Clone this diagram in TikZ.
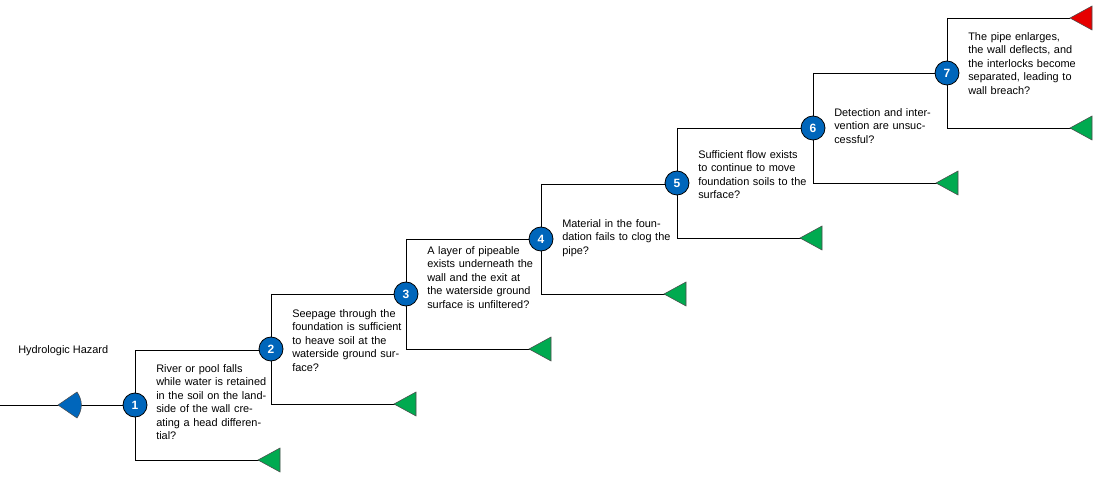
\documentclass[tikz,border=0pt]{standalone}
\usepackage{fontspec}
\setmainfont{Liberation Sans}
\definecolor{bl}{RGB}{0,102,187}
\definecolor{gr}{RGB}{0,170,80}
\definecolor{rd}{RGB}{230,0,0}
\begin{document}
\begin{tikzpicture}[x=0.75pt,y=-0.75pt,
 num/.style={circle,draw=black,fill=bl,text=white,font=\fontsize{9}{10}\selectfont\bfseries,minimum size=18pt,inner sep=0pt,line width=0.6pt},
 txt/.style={anchor=north west,align=left,text width=84pt,inner sep=0pt,font=\fontsize{8.2}{10.1}\selectfont},
 ln/.style={line width=0.7pt}]
\useasboundingbox (0,0) rectangle (1104,481);
\newcommand{\tri}[3]{\fill[#3,draw=black!70,line width=0.4pt] (#1,#2) -- (#1+22,#2-12) -- (#1+22,#2+12) -- cycle;}
% hazard
\node[anchor=west,inner sep=0pt,font=\fontsize{8.2}{10}\selectfont] (hz) at (18,351) {Hydrologic Hazard};
\coordinate (s) at (0,405);
\foreach \i/\x/\y in {1/135/405,2/271/349,3/406/294,4/541/239,5/677/183,6/813/128,7/947/73}{
  \coordinate (t\i) at (\x,\y-55);
  \coordinate (b\i) at (\x,\y+55);
  \coordinate (e\i) at (\x+125,\y+55);
  \draw[ln] (t\i) -- (b\i) -- (e\i);
  \tri{\x+123}{\y+55}{gr}
}
\draw[ln] (s) -- (135,405);
\fill[bl,draw=black!70,line width=0.4pt] (58,405) -- (77,392) to[bend left=35] (77,418) -- cycle;
\foreach \i/\j in {1/2,2/3,3/4,4/5,5/6,6/7}{ \draw[ln] (t\i) -- ++(136,0); }
\draw[ln] (t7) -- (1070,18);
\tri{1070}{18}{rd}
\node[num] (n1) at (135,405) {1};
\node[num] (n2) at (271,349) {2};
\node[num] (n3) at (406,294) {3};
\node[num] (n4) at (541,239) {4};
\node[num] (n5) at (677,183) {5};
\node[num] (n6) at (813,128) {6};
\node[num] (n7) at (947,73) {7};
\node[txt] (x1) at (156,364) {River or pool falls while water is retained in the soil on the landside of the wall creating a head differential?};
\node[txt] (x2) at (292,309) {Seepage through the foundation is sufficient to heave soil at the waterside ground surface?};
\node[txt] (x3) at (427,246) {A layer of pipeable exists underneath the wall and the exit at the waterside ground surface is unfiltered?};
\node[txt] (x4) at (562,219) {Material in the foundation fails to clog the pipe?};
\node[txt] (x5) at (698,150) {Sufficient flow exists to continue to move foundation soils to the surface?};
\node[txt] (x6) at (834,108) {Detection and intervention are unsuccessful?};
\node[txt] (x7) at (968,32) {The pipe enlarges, the wall deflects, and the interlocks become separated, leading to wall breach?};
\end{tikzpicture}
\end{document}
